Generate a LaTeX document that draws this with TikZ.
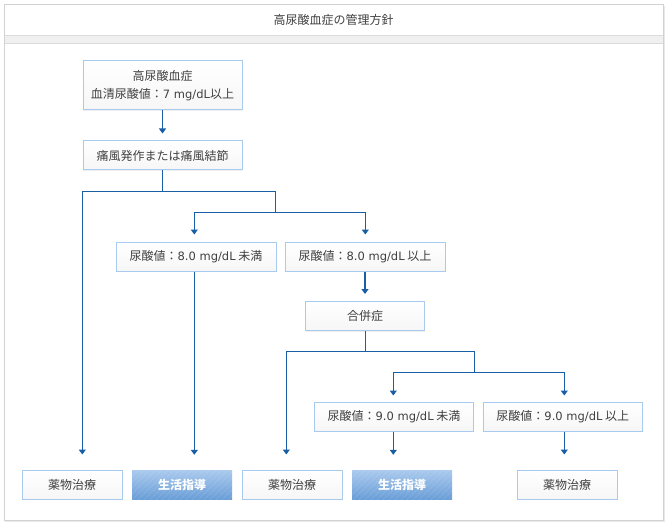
\documentclass[tikz,border=0pt]{standalone}
\usepackage{fontspec}
\setmainfont{Noto Sans CJK JP}
\newfontfamily\latinf{DejaVu Sans}
\newcommand{\lt}[1]{{\latinf\fontsize{11.5}{16}\selectfont #1}}
\usetikzlibrary{arrows.meta,patterns.meta,shadows}
\definecolor{linec}{RGB}{25,95,165}
\definecolor{boxb}{RGB}{168,202,238}
\definecolor{txt}{RGB}{64,64,64}
\definecolor{lifetop}{RGB}{170,202,238}
\definecolor{lifebot}{RGB}{106,158,215}
\begin{document}
\begin{tikzpicture}[x=1pt,y=-1pt,
  box/.style={draw=boxb, line width=1pt, top color=white, bottom color=gray!7,
    text=txt, font=\fontsize{12}{18}\selectfont, inner sep=0pt,
    minimum height=29pt, align=center,
    drop shadow={shadow xshift=0pt, shadow yshift=-1pt, opacity=0.12}},
  life/.style={top color=lifetop, bottom color=lifebot, text=white,
    font=\fontsize{12}{16}\selectfont\bfseries, inner sep=0pt,
    minimum height=29pt, minimum width=100pt,
    postaction={pattern={Lines[angle=45,distance=4pt,line width=0.6pt]}, pattern color=white, fill opacity=0.18}},
  conn/.style={draw=linec, line width=1.2pt},
  arr/.style={conn, -{Triangle[width=7pt,length=5pt]}}
]
\useasboundingbox (0,0) rectangle (667,524);
% frame
\fill[gray!18] (5,6) rectangle (665,522);
\draw[draw=gray!35, fill=white] (4,4) rectangle (663,520);
\fill[gray!12] (4.5,35) rectangle (662.5,43);
\draw[gray!28] (4.5,35) -- (662.5,35);
\draw[gray!28] (4.5,43) -- (662.5,43);
\node[text=txt, font=\fontsize{12}{14}\selectfont] (title) at (333.5,19.5) {高尿酸血症の管理方針};

% nodes
\node[box, minimum width=159pt, minimum height=49pt] (top) at (162.5,85.5) {高尿酸血症\\血清尿酸値：\lt{7 mg/dL}以上};
\node[box, minimum width=159pt] (gout) at (162.5,155.5) {痛風発作または痛風結節};
\node[box, minimum width=160pt] (u8lo) at (196,256.5) {尿酸値：\lt{8.0 mg/dL} 未満};
\node[box, minimum width=160pt] (u8hi) at (365,256.5) {尿酸値：\lt{8.0 mg/dL} 以上};
\node[box, minimum width=119pt] (comp) at (365.2,316) {合併症};
\node[box, minimum width=158.6pt] (u9lo) at (394,416.5) {尿酸値：\lt{9.0 mg/dL} 未満};
\node[box, minimum width=159pt] (u9hi) at (562.8,416.5) {尿酸値：\lt{9.0 mg/dL} 以上};
\node[box, minimum width=100pt] (d1) at (72,484.5) {薬物治療};
\node[life] (l1) at (182,484.5) {生活指導};
\node[box, minimum width=100pt] (d2) at (292,484.5) {薬物治療};
\node[life] (l2) at (402,484.5) {生活指導};
\node[box, minimum width=100pt] (d3) at (567,484.5) {薬物治療};

% junction coordinates
\coordinate (a1) at (82.3,191.7);
\coordinate (a2) at (275.3,191.7);
\coordinate (b1) at (194.3,212.3);
\coordinate (b2) at (365.3,212.3);
\coordinate (c1) at (286.3,351.3);
\coordinate (c2) at (474.3,351.3);
\coordinate (e1) at (393.3,372.3);
\coordinate (e2) at (564.3,372.3);

% connectors
\draw[arr, shorten >=7pt] (top.south) -- (gout.north);
\draw[conn] (gout.south) -- (gout.south |- a1);
\draw[arr, shorten >=15pt] (a2 |- b1) -- (a2) -| (a1 |- d1.north);
\draw[arr, shorten >=7pt] (a2 |- b1) -| (b1 |- u8lo.north);
\draw[arr, shorten >=7pt] (a2 |- b1) -| (b2 |- u8hi.north);
\draw[arr, shorten >=15pt] (b1 |- u8lo.south) -- (b1 |- l1.north);
\draw[arr, shorten >=7pt] (u8hi.south) -- (u8hi.south |- comp.north);
\draw[conn] (comp.south) -- (comp.south |- c1);
\draw[arr, shorten >=15pt] (c2 |- e1) -- (c2) -| (c1 |- d2.north);
\draw[arr, shorten >=6pt] (c2 |- e1) -| (e1 |- u9lo.north);
\draw[arr, shorten >=6pt] (c2 |- e1) -| (e2 |- u9hi.north);
\draw[arr, shorten >=15pt] (e1 |- u9lo.south) -- (e1 |- l2.north);
\draw[arr, shorten >=15pt] (e2 |- u9hi.south) -- (e2 |- d3.north);
\end{tikzpicture}
\end{document}
